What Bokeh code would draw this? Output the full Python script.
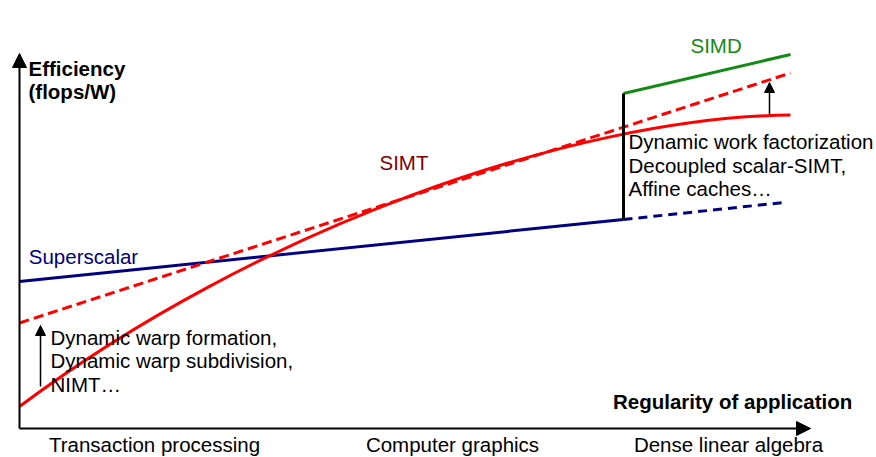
from bokeh.plotting import figure
from bokeh.models import Range1d, Arrow, NormalHead, ColumnDataSource
from bokeh.core.properties import value
from bokeh.embed import file_html
from bokeh.resources import INLINE

# ---- data (schematic units: regularity on x, efficiency on y) ----
superscalar_x = [0, 604]
superscalar_y = [147, 209]
superscalar_proj_x = [604, 764]
superscalar_proj_y = [209, 226]

# SIMT curve: start, two control points, end (cubic Bezier)
simt_start = (0, 22)
simt_ctrl1 = (235, 198)
simt_ctrl2 = (551, 311)
simt_end = (771, 313.5)
simt_ideal_x = [0, 771]
simt_ideal_y = [105.5, 355.5]

simd_x = [604, 771]
simd_y = [335, 374]
jump_x = [604, 604]
jump_y = [209, 335]

categories = ["Transaction processing", "Computer graphics", "Dense linear algebra"]
category_x = [135, 433, 709]

left_notes = ["Dynamic warp formation,", "Dynamic warp subdivision,", "NIMT\u2026"]
right_notes = ["Dynamic work factorization", "Decoupled scalar-SIMT,", "Affine caches\u2026"]

FONT = "Liberation Sans"
FS = "20.5px"
DY = 7  # baseline correction

p = figure(width=876, height=457, x_range=Range1d(-19, 857), y_range=Range1d(-29, 428),
           x_axis_type=None, y_axis_type=None, toolbar_location=None,
           output_backend="svg", min_border=0, outline_line_color=None,
           background_fill_color="white", border_fill_color="white")

# axes as arrows
p.add_layout(Arrow(end=NormalHead(size=14, fill_color="black", line_color="black"),
                   x_start=0, y_start=0, x_end=0, y_end=375, line_width=2, line_color="black"))
p.add_layout(Arrow(end=NormalHead(size=14, fill_color="black", line_color="black"),
                   x_start=0, y_start=0, x_end=791, y_end=0, line_width=2, line_color="black"))

# series
p.line(superscalar_x, superscalar_y, line_color="#000080", line_width=3)
p.line(superscalar_proj_x, superscalar_proj_y, line_color="#000080", line_width=3, line_dash="9 6")
p.line(simt_ideal_x, simt_ideal_y, line_color="#ff0000", line_width=3, line_dash="10 5")
p.bezier(x0=[simt_start[0]], y0=[simt_start[1]], x1=[simt_end[0]], y1=[simt_end[1]],
         cx0=[simt_ctrl1[0]], cy0=[simt_ctrl1[1]], cx1=[simt_ctrl2[0]], cy1=[simt_ctrl2[1]],
         line_color="#ff0000", line_width=3)
p.line(simd_x, simd_y, line_color="#138a13", line_width=3)
p.line(jump_x, jump_y, line_color="black", line_width=3)

# improvement arrows
p.add_layout(Arrow(end=NormalHead(size=10, fill_color="black", line_color="black"),
                   x_start=21, y_start=42, x_end=21, y_end=103, line_width=1.5, line_color="black"))
p.add_layout(Arrow(end=NormalHead(size=10, fill_color="black", line_color="black"),
                   x_start=750, y_start=314, x_end=750, y_end=346, line_width=1.5, line_color="black"))

def txt(x, y, s, color="black", align="left", style="normal"):
    src = ColumnDataSource(dict(x=x, y=[v + DY for v in y], t=s))
    p.text(x="x", y="y", text="t", source=src, text_color=color, text_align=align,
           text_baseline="alphabetic", text_font=value(FONT), text_font_size=FS,
           text_font_style=style)

txt([9, 9], [352.7, 330.5], ["Efficiency", "(flops/W)"], style="bold")
txt([832.7], [19.7], ["Regularity of application"], align="right", style="bold")
txt(category_x, [-23, -23, -23], categories, align="center")
txt([671], [376.3], ["SIMD"], color="#138a13")
txt([360], [259], ["SIMT"], color="#800000")
txt([9.3], [164.7], ["Superscalar"], color="#000080")
txt([609, 609, 609], [279.7, 256.3, 233], right_notes)
txt([31, 31, 31], [84, 61.3, 37.3], left_notes)

open("out.html", "w").write(file_html(p, INLINE))
